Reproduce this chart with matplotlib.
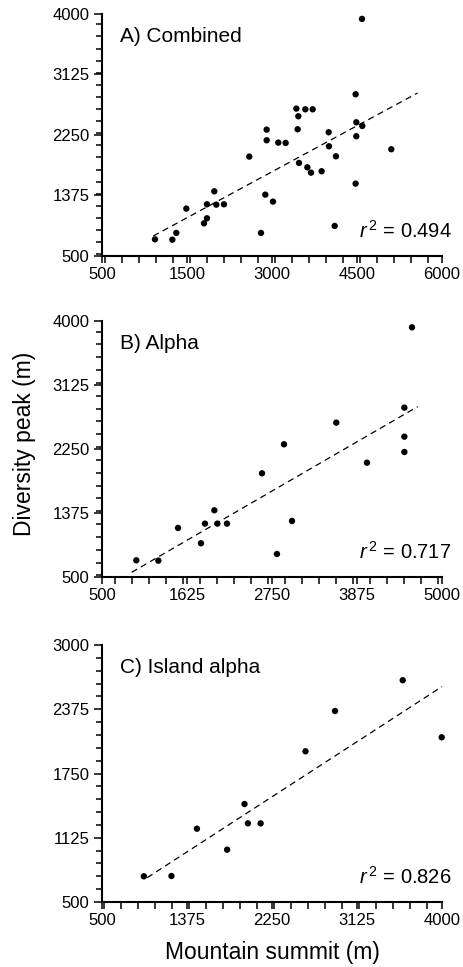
import numpy as np
import matplotlib
matplotlib.use('Agg')
import matplotlib.pyplot as plt
from matplotlib.ticker import FixedLocator, FixedFormatter, MultipleLocator

plt.rcParams['font.family'] = ['Liberation Sans', 'DejaVu Sans']
plt.rcParams['mathtext.fontset'] = 'custom'
plt.rcParams['mathtext.it'] = 'Liberation Sans:italic'
plt.rcParams['mathtext.rm'] = 'Liberation Sans'

# A) Combined
combined_x = [1357, 1638, 1702, 1864, 2150, 2198, 2198, 2317, 2349, 2473,
              2883, 3072, 3142, 3164, 3164, 3266, 3352, 3471, 3644, 3665,
              3676, 3687, 3789, 3822, 3881, 3908, 4053, 4167, 4172, 4264,
              4285, 4603, 4603, 4614, 4614, 4706, 4711, 5180]
combined_y = [741, 736, 833, 1185, 972, 1045, 1247, 1435, 1242, 1247,
              1937, 833, 1387, 2327, 2173, 1286, 2139, 2134, 2631, 2332,
              2520, 1845, 2621, 1782, 1705, 2621, 1725, 2289, 2086, 934,
              1941, 2838, 1546, 2433, 2231, 3928, 2380, 2043]
combined_fit_x = [1330, 5606]
combined_fit_y = [789, 2857]

# B) Alpha
alpha_x = [954, 1246, 1506, 1810, 1863, 1987, 2027, 2154, 2618, 2816,
           2909, 3015, 3601, 4007, 4502, 4502, 4502, 4603]
alpha_y = [732, 727, 1173, 964, 1232, 1414, 1232, 1232, 1918, 818,
           2314, 1268, 2609, 2063, 2814, 2418, 2209, 3909]
alpha_fit_x = [893, 4678]
alpha_fit_y = [568, 2827]

# C) Island alpha
island_x = [931, 1215, 1477, 1788, 1967, 2002, 2133, 2595, 2899, 3596, 3997]
island_y = [750, 753, 1213, 1009, 1453, 1265, 1265, 1966, 2358, 2657, 2102]
island_fit_x = [966, 4000]
island_fit_y = [737, 2595]

panel_titles = ['A) Combined', 'B) Alpha', 'C) Island alpha']
r2_labels = ['0.494', '0.717', '0.826']

# tick positions are evenly spaced, labels as printed on the original
xtick_pos = [[500, 1875, 3250, 4625, 6000],
             [500, 1625, 2750, 3875, 5000],
             [500, 1375, 2250, 3125, 4000]]
xtick_labels = [['500', '1500', '3000', '4500', '6000'],
                ['500', '1625', '2750', '3875', '5000'],
                ['500', '1375', '2250', '3125', '4000']]
ytick_pos = [[500, 1375, 2250, 3125, 4000],
             [500, 1375, 2250, 3125, 4000],
             [500, 1125, 1750, 2375, 3000]]


def draw_panel(ax, x, y, fit_x, fit_y, title, r2, xt, xl, yt):
    """ Draws one scatter panel with its dashed regression line.

    :param ax: Axes to draw on.
    :param x: Mountain summit values.
    :param y: Diversity peak values.
    """
    ax.scatter(x, y, s=21, color='black', edgecolors='none', zorder=3, clip_on=False)
    ax.plot(fit_x, fit_y, color='black', lw=0.9, dashes=(5, 3.5), clip_on=False)

    ax.set_xlim(xt[0], xt[-1])
    ax.set_ylim(yt[0], yt[-1])
    ax.xaxis.set_major_locator(FixedLocator(xt))
    ax.xaxis.set_major_formatter(FixedFormatter(xl))
    ax.xaxis.set_minor_locator(MultipleLocator((xt[1] - xt[0]) / 5))
    ax.yaxis.set_major_locator(FixedLocator(yt))
    ax.yaxis.set_minor_locator(MultipleLocator((yt[1] - yt[0]) / 5))

    for side in ['top', 'right']:
        ax.spines[side].set_visible(False)
    for side in ['left', 'bottom']:
        ax.spines[side].set_linewidth(1.5)

    ax.tick_params(axis='x', which='both', direction='out', length=5, width=1.1,
                   pad=3, labelsize=12)
    ax.tick_params(axis='y', which='major', direction='out', length=6, width=1.1,
                   pad=3, labelsize=12)
    ax.tick_params(axis='y', which='minor', direction='out', length=4, width=1.1)

    ax.annotate(title, xy=(0, 1), xycoords='axes fraction', xytext=(13, -16.5),
                textcoords='offset points', ha='left', va='center', fontsize=15)
    ax.annotate(r'$r^{\,2}$ = ' + r2, xy=(1, 0), xycoords='axes fraction',
                xytext=(7, 18), textcoords='offset points', ha='right',
                va='center', fontsize=14.5)
    ax.patch.set_alpha(0)


if __name__ == '__main__':
    fig = plt.figure(figsize=(4.63, 9.67), dpi=100)

    boxes = [[0.2203, 0.7353, 0.7343, 0.2503],
             [0.2203, 0.4030, 0.7343, 0.2654],
             [0.2203, 0.0672, 0.7343, 0.2658]]
    xs = [combined_x, alpha_x, island_x]
    ys = [combined_y, alpha_y, island_y]
    fxs = [combined_fit_x, alpha_fit_x, island_fit_x]
    fys = [combined_fit_y, alpha_fit_y, island_fit_y]

    for i in range(3):
        ax = fig.add_axes(boxes[i])
        draw_panel(ax, xs[i], ys[i], fxs[i], fys[i], panel_titles[i], r2_labels[i],
                   xtick_pos[i], xtick_labels[i], ytick_pos[i])

    fig.text(25 / 463, 1 - 444 / 967, 'Diversity peak (m)', rotation=90,
             ha='center', va='center', fontsize=16.5)
    fig.text(272 / 463, 1 - 953 / 967, 'Mountain summit (m)',
             ha='center', va='center', fontsize=16.5)

    fig.savefig('out.png', dpi=100)
